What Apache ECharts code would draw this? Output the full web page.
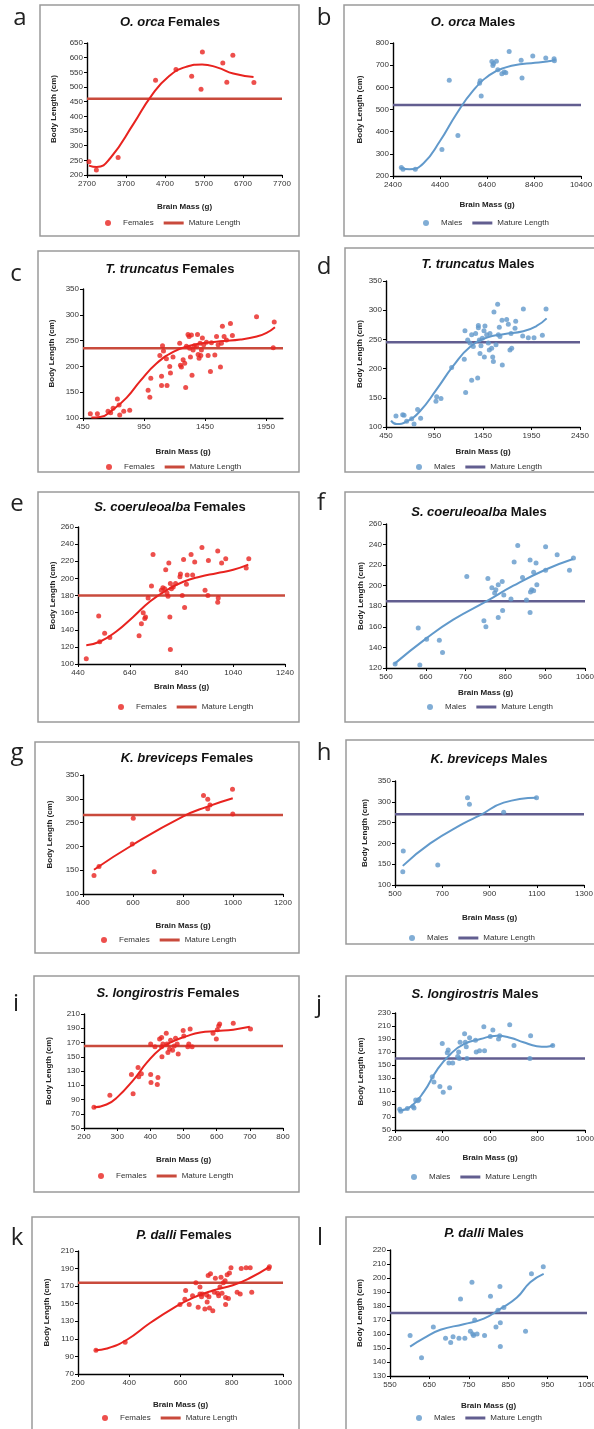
<!DOCTYPE html>
<html>
<head>
<meta charset="utf-8">
<script src="https://cdn.jsdelivr.net/npm/echarts@6/dist/echarts.min.js"></script>
<style>
  html, body { margin: 0; padding: 0; background: #fff; }
  #chart { width: 594px; height: 1429px; }
</style>
</head>
<body>
<div id="chart"></div>
<script>
// values: brain mass (g) vs body length (cm)
const letters = ['a', 'b', 'c', 'd', 'e', 'f', 'g', 'h', 'i', 'j', 'k', 'l'];
const species = ['O. orca', 'O. orca', 'T. truncatus', 'T. truncatus', 'S. coeruleoalba', 'S. coeruleoalba',
  'K. breviceps', 'K. breviceps', 'S. longirostris', 'S. longirostris', 'P. dalli', 'P. dalli'];
const sexes = ['Females', 'Males', 'Females', 'Males', 'Females', 'Males',
  'Females', 'Males', 'Females', 'Males', 'Females', 'Males'];
const matureLength = [460, 520, 235, 245, 180, 185, 266, 270, 165, 160, 174, 175];

// [min, max, interval]
const xTicks = [[2700, 7700, 1000], [2400, 10400, 2000], [450, 2090, 500], [450, 2450, 500],
  [440, 1240, 200], [560, 1060, 100], [400, 1200, 200], [500, 1300, 200],
  [200, 800, 100], [200, 1000, 200], [200, 1000, 200], [550, 1050, 100]];
const yTicks = [[200, 650, 50], [200, 800, 100], [100, 350, 50], [100, 350, 50],
  [100, 260, 20], [120, 260, 20], [100, 350, 50], [100, 350, 50],
  [50, 210, 20], [50, 230, 20], [70, 210, 20], [130, 220, 10]];

const orcaF = [[2751,245],[2940,217],[3498,260],[4458,523],[4981,560],[5384,537],[5624,492],[5659,619],
  [6182,582],[6285,516],[6440,608],[6980,515]];
const orcaFTrend = [[2750,232],[2950,227],[3300,258],[3900,376],[4350,470],[4800,537],[5250,569],
  [5650,577],[6050,566],[6450,546],[6970,534]];
const orcaM = [[2754,238],[2825,230],[3349,230],[4482,319],[4794,632],[5162,383],[6082,618],[6110,630],
  [6153,561],[6607,717],[6649,699],[6677,707],[6799,718],[6861,679],[7032,661],[7131,669],[7201,666],
  [7343,762],[7853,722],[7890,642],[8348,741],[8900,732],[9254,729],[9268,720]];
const orcaMTrend = [[2711,238],[3100,230],[3700,258],[4400,358],[5100,480],[5800,584],[6500,655],
  [7200,690],[7900,705],[8600,712],[9296,722]];

const truncF = [[510,108],[568,108],[655,113],[677,110],[697,119],[732,137],[746,125],[751,106],[784,113],
  [833,115],[984,154],[998,140],[1006,177],[1080,221],[1094,181],[1094,163],[1102,240],[1110,230],
  [1134,215],[1139,163],[1161,200],[1167,187],[1188,218],[1243,245],[1249,202],[1257,199],[1271,213],
  [1284,206],[1292,159],[1298,239],[1311,262],[1320,258],[1325,235],[1339,261],[1331,218],[1344,183],
  [1353,232],[1362,240],[1380,239],[1389,262],[1394,223],[1402,216],[1410,245],[1416,221],[1421,232],
  [1429,255],[1440,242],[1462,247],[1476,221],[1495,190],[1503,246],[1531,222],[1545,258],[1558,242],
  [1577,199],[1585,245],[1593,278],[1607,258],[1626,251],[1659,283],[1675,260],[1873,296],[2010,236],
  [2018,286]];
const truncFTrend = [[518,101],[590,102],[700,117],[810,140],[920,172],[1050,205],[1190,228],
  [1325,240],[1460,246],[1600,249],[1740,252],[1875,258],[1955,265],[2024,276]];
const truncM = [[553,119],[622,121],[636,120],[663,110],[715,114],[739,105],[776,130],[807,115],
  [965,144],[972,152],[1017,149],[1127,202],[1257,216],[1264,265],[1271,159],[1292,249],[1316,244],
  [1333,180],[1333,258],[1350,238],[1374,260],[1395,184],[1402,274],[1402,270],[1412,249],[1419,226],
  [1429,239],[1443,252],[1460,265],[1464,220],[1470,273],[1488,258],[1505,244],[1515,232],[1522,260],
  [1539,235],[1550,220],[1557,212],[1563,297],[1584,241],[1601,310],[1608,258],[1618,271],[1625,255],
  [1646,283],[1649,206],[1694,284],[1711,276],[1728,232],[1746,235],[1739,260],[1780,269],[1787,281],
  [1866,302],[1859,256],[1917,253],[1976,253],[2062,257],[2100,302]];
const truncMTrend = [[502,111],[560,105],[660,109],[800,127],[970,164],[1145,205],[1315,237],
  [1490,253],[1660,259],[1865,264],[2003,273],[2106,286]];

const coerF = [[472,106],[520,156],[524,126],[543,136],[563,131],[676,133],[685,147],[692,160],[698,153],
  [701,155],[711,177],[724,191],[730,228],[762,186],[768,189],[775,188],[779,210],[784,183],[788,179],
  [791,218],[795,155],[797,194],[797,117],[801,188],[808,190],[817,194],[834,202],[836,205],[843,180],
  [848,222],[852,166],[859,193],[862,204],[877,228],[883,204],[891,219],[919,236],[931,186],[942,180],
  [944,221],[980,232],[982,177],[980,172],[995,218],[1011,223],[1090,212],[1100,223]];
const coerFTrend = [[472,122],[524,126],[588,138],[653,155],[718,173],[782,186],[847,196],[911,202],
  [976,206],[1040,210],[1098,216]];
const coerM = [[583,124],[641,159],[645,123],[662,148],[694,147],[702,135],[763,209],[806,166],[811,160],
  [816,207],[826,198],[833,193],[836,196],[842,201],[842,169],[852,204],[853,176],[856,191],[874,187],
  [882,223],[891,239],[903,208],[913,186],[922,225],[922,174],[923,194],[926,196],[931,195],[931,213],
  [937,222],[939,201],[961,238],[961,215],[990,230],[1021,215],[1031,227]];
const coerMTrend = [[581,124],[662,149],[729,167],[813,185],[880,200],[963,216],[1030,226]];

const brevF = [[444,139],[464,158],[597,205],[601,259],[685,147],[882,307],[899,299],[899,279],[908,287],
  [998,320],[999,268]];
const brevFTrend = [[444,151],[601,204],[801,263],[895,283],[999,301]];
const brevM = [[533,132],[535,182],[681,148],[807,310],[815,294],[960,275],[1099,310]];
const brevMTrend = [[533,146],[649,200],[790,248],[861,268],[960,298],[1099,310]];

const longF = [[230,79],[278,96],[348,98],[343,125],[363,135],[365,122],[373,126],[401,168],[401,125],
  [402,114],[414,164],[421,111],[423,121],[428,175],[434,164],[434,177],[435,150],[438,168],[448,183],
  [450,168],[453,156],[458,161],[461,173],[467,159],[472,165],[476,176],[481,168],[484,154],[499,187],
  [501,179],[513,164],[516,168],[520,189],[526,164],[589,183],[599,175],[602,188],[606,193],[609,196],
  [650,197],[702,189]];
const longFTrend = [[230,79],[268,83],[300,93],[350,118],[390,142],[430,161],[470,172],[510,179],
  [550,184],[600,186],[650,188],[700,192]];
const longM = [[220,82],[224,79],[252,83],[276,86],[280,84],[287,96],[296,95],[301,97],[357,132],
  [364,124],[389,117],[399,183],[403,108],[420,169],[424,173],[427,153],[430,115],[443,153],[464,163],
  [468,170],[471,160],[474,185],[493,198],[496,185],[500,178],[503,160],[514,192],[539,188],[542,170],
  [556,172],[574,209],[577,172],[601,194],[612,204],[636,190],[641,195],[683,212],[701,180],[771,195],
  [768,160],[864,180]];
const longMTrend = [[217,80],[266,86],[322,109],[378,143],[434,167],[490,182],[560,190],[630,195],
  [685,192],[741,185],[797,179],[839,178],[867,181]];

const dalliF = [[270,97],[384,106],[598,149],[617,155],[620,165],[634,149],[647,159],[660,174],[669,146],
  [676,161],[676,169],[682,158],[685,161],[695,144],[702,160],[704,152],[708,182],[711,158],[713,145],
  [717,184],[726,142],[732,163],[736,179],[745,162],[749,159],[754,169],[758,180],[762,162],[767,174],
  [774,176],[776,149],[776,157],[782,183],[787,156],[791,185],[797,191],[821,163],[833,161],[837,190],
  [856,191],[872,191],[878,163],[947,192],[944,190]];
const dalliFTrend = [[267,97],[313,99],[391,109],[481,128],[572,145],[650,157],[726,165],[804,171],
  [869,179],[947,192]];
const dalliM = [[601,159],[630,143],[660,165],[691,157],[704,154],[710,158],[725,157],[729,185],[740,157],
  [754,162],[758,197],[760,160],[762,159],[765,170],[771,160],[790,159],[805,187],[819,165],[824,177],
  [830,168],[829,194],[830,151],[839,179],[894,162],[909,203],[939,208]];
const dalliMTrend = [[601,151],[636,157],[678,163],[737,167],[788,171],[830,178],[872,186],[906,197],
  [940,203]];

const points = [orcaF, orcaM, truncF, truncM, coerF, coerM, brevF, brevM, longF, longM, dalliF, dalliM];
const trends = [orcaFTrend, orcaMTrend, truncFTrend, truncMTrend, coerFTrend, coerMTrend,
  brevFTrend, brevMTrend, longFTrend, longMTrend, dalliFTrend, dalliMTrend];

// layout, pixels: panel box, plot area, title centre, letter, axis name gaps, legend
const layout = [
  { box: [40, 5, 299, 236], grid: [87, 43, 282, 175], title: [170, 22], letter: [20, 18], xGap: 28, yGap: 29, legend: [105, 224] },
  { box: [344, 5, 600, 236], grid: [393, 43, 581, 176], title: [473, 22], letter: [324, 18], xGap: 25, yGap: 29, legend: [423, 224] },
  { box: [38, 251, 299, 472], grid: [83, 289, 283, 418], title: [170, 269], letter: [16, 274], xGap: 30, yGap: 27, legend: [106, 468] },
  { box: [345, 248, 600, 472], grid: [386, 281, 580, 427], title: [478, 264], letter: [324, 267], xGap: 21, yGap: 22, legend: [416, 468] },
  { box: [38, 492, 299, 722], grid: [78, 527, 285, 664], title: [170, 507], letter: [17, 504], xGap: 19, yGap: 20, legend: [118, 708] },
  { box: [345, 492, 600, 722], grid: [386, 524, 585, 668], title: [479, 512], letter: [321, 503], xGap: 21, yGap: 21, legend: [427, 708] },
  { box: [35, 742, 299, 953], grid: [83, 775, 283, 894], title: [187, 758], letter: [17, 753], xGap: 28, yGap: 29, legend: [101, 941] },
  { box: [346, 740, 600, 944], grid: [395, 781, 584, 885], title: [489, 759], letter: [324, 753], xGap: 29, yGap: 26, legend: [409, 939] },
  { box: [34, 976, 299, 1192], grid: [84, 1014, 283, 1128], title: [168, 993], letter: [16, 1004], xGap: 28, yGap: 31, legend: [98, 1177] },
  { box: [346, 976, 600, 1192], grid: [395, 1013, 585, 1130], title: [475, 994], letter: [319, 1005], xGap: 24, yGap: 30, legend: [411, 1178] },
  { box: [32, 1217, 299, 1440], grid: [78, 1251, 283, 1374], title: [184, 1235], letter: [17, 1238], xGap: 27, yGap: 27, legend: [102, 1419] },
  { box: [346, 1217, 600, 1440], grid: [390, 1250, 587, 1376], title: [484, 1233], letter: [320, 1238], xGap: 26, yGap: 26, legend: [416, 1419] }
];

const FONT = '"Liberation Sans", Arial, sans-serif';
const colors = {
  Females: { point: '#E8231F', mature: '#C94A3C' },
  Males: { point: '#6199CB', mature: '#625E90' }
};

const grids = [], xAxes = [], yAxes = [], series = [], legends = [], graphics = [];

layout.forEach(function (L, i) {
  const sex = sexes[i];
  const c = colors[sex];
  const xt = xTicks[i], yt = yTicks[i];

  graphics.push({
    type: 'rect', silent: true, z: 0,
    shape: { x: L.box[0], y: L.box[1], width: L.box[2] - L.box[0], height: L.box[3] - L.box[1] },
    style: { fill: '#fff', stroke: '#9a9a9a', lineWidth: 1.5 }
  });
  graphics.push({
    type: 'text', silent: true, x: L.letter[0], y: L.letter[1],
    style: { text: letters[i], fontSize: 24, fontFamily: '"Open Sans", sans-serif', fill: '#222', align: 'center', verticalAlign: 'middle' }
  });
  graphics.push({
    type: 'text', silent: true, x: L.title[0], y: L.title[1],
    style: {
      text: '{i|' + species[i] + '} {b|' + sex + '}',
      align: 'center', verticalAlign: 'middle',
      rich: {
        i: { fontSize: 13, fontWeight: 'bold', fontStyle: 'italic', fontFamily: FONT, fill: '#111' },
        b: { fontSize: 13, fontWeight: 'bold', fontFamily: FONT, fill: '#111' }
      }
    }
  });

  grids.push({
    left: L.grid[0], top: L.grid[1],
    width: L.grid[2] - L.grid[0], height: L.grid[3] - L.grid[1],
    containLabel: false, outerBoundsMode: 'none'
  });

  const axisCommon = {
    type: 'value', gridIndex: i,
    axisLine: { show: true, onZero: false, lineStyle: { color: '#000', width: 1.4 } },
    axisTick: { show: true, inside: false, length: 3, lineStyle: { color: '#000', width: 1 } },
    splitLine: { show: false },
    nameLocation: 'middle',
    nameTextStyle: { fontSize: 8, fontWeight: 'bold', fontFamily: FONT, color: '#222' }
  };
  xAxes.push(Object.assign({}, axisCommon, {
    min: xt[0], max: xt[1], interval: xt[2],
    name: 'Brain Mass (g)', nameGap: L.xGap,
    axisLabel: {
      fontSize: 8, fontFamily: FONT, color: '#333', margin: 5,
      showMaxLabel: (xt[1] - xt[0]) % xt[2] === 0,
      formatter: function (v) { return String(v); }
    }
  }));
  yAxes.push(Object.assign({}, axisCommon, {
    min: yt[0], max: yt[1], interval: yt[2],
    name: 'Body Length (cm)', nameGap: L.yGap, nameRotate: 90,
    axisLabel: {
      fontSize: 8, fontFamily: FONT, color: '#333', margin: 4,
      formatter: function (v) { return String(v); }
    }
  }));

  series.push({
    type: 'scatter', name: sex, xAxisIndex: i, yAxisIndex: i,
    data: points[i], symbolSize: 5, z: 3,
    itemStyle: { color: c.point }
  });
  series.push({
    type: 'line', name: 'trend', xAxisIndex: i, yAxisIndex: i,
    data: trends[i], smooth: 0.5, showSymbol: false, z: 4,
    itemStyle: { color: c.point },
    lineStyle: { color: c.point, width: 2 }
  });
  series.push({
    type: 'line', name: 'Mature Length', xAxisIndex: i, yAxisIndex: i,
    data: [[xt[0], matureLength[i]], [xt[1], matureLength[i]]],
    showSymbol: false, z: 2,
    itemStyle: { color: c.mature },
    lineStyle: { color: c.mature, width: 2.5 }
  });

  legends.push({
    left: L.legend[0], top: L.legend[1] - 5,
    orient: 'horizontal', padding: 0, itemGap: 10,
    itemWidth: 20, itemHeight: 6, selectedMode: false,
    textStyle: { fontSize: 8, fontFamily: FONT, color: '#333' },
    data: [
      { name: sex, icon: 'circle', itemStyle: { color: c.point, borderWidth: 0 } },
      { name: 'Mature Length', icon: 'path://M0,0H20V3H0Z', itemStyle: { color: c.mature, borderWidth: 0 } }
    ]
  });
});

const chart = echarts.init(document.getElementById('chart'), null, { renderer: 'canvas' });
chart.setOption({
  backgroundColor: '#fff',
  animation: false,
  graphic: { elements: graphics },
  grid: grids,
  xAxis: xAxes,
  yAxis: yAxes,
  legend: legends,
  series: series
});
</script>
</body>
</html>
